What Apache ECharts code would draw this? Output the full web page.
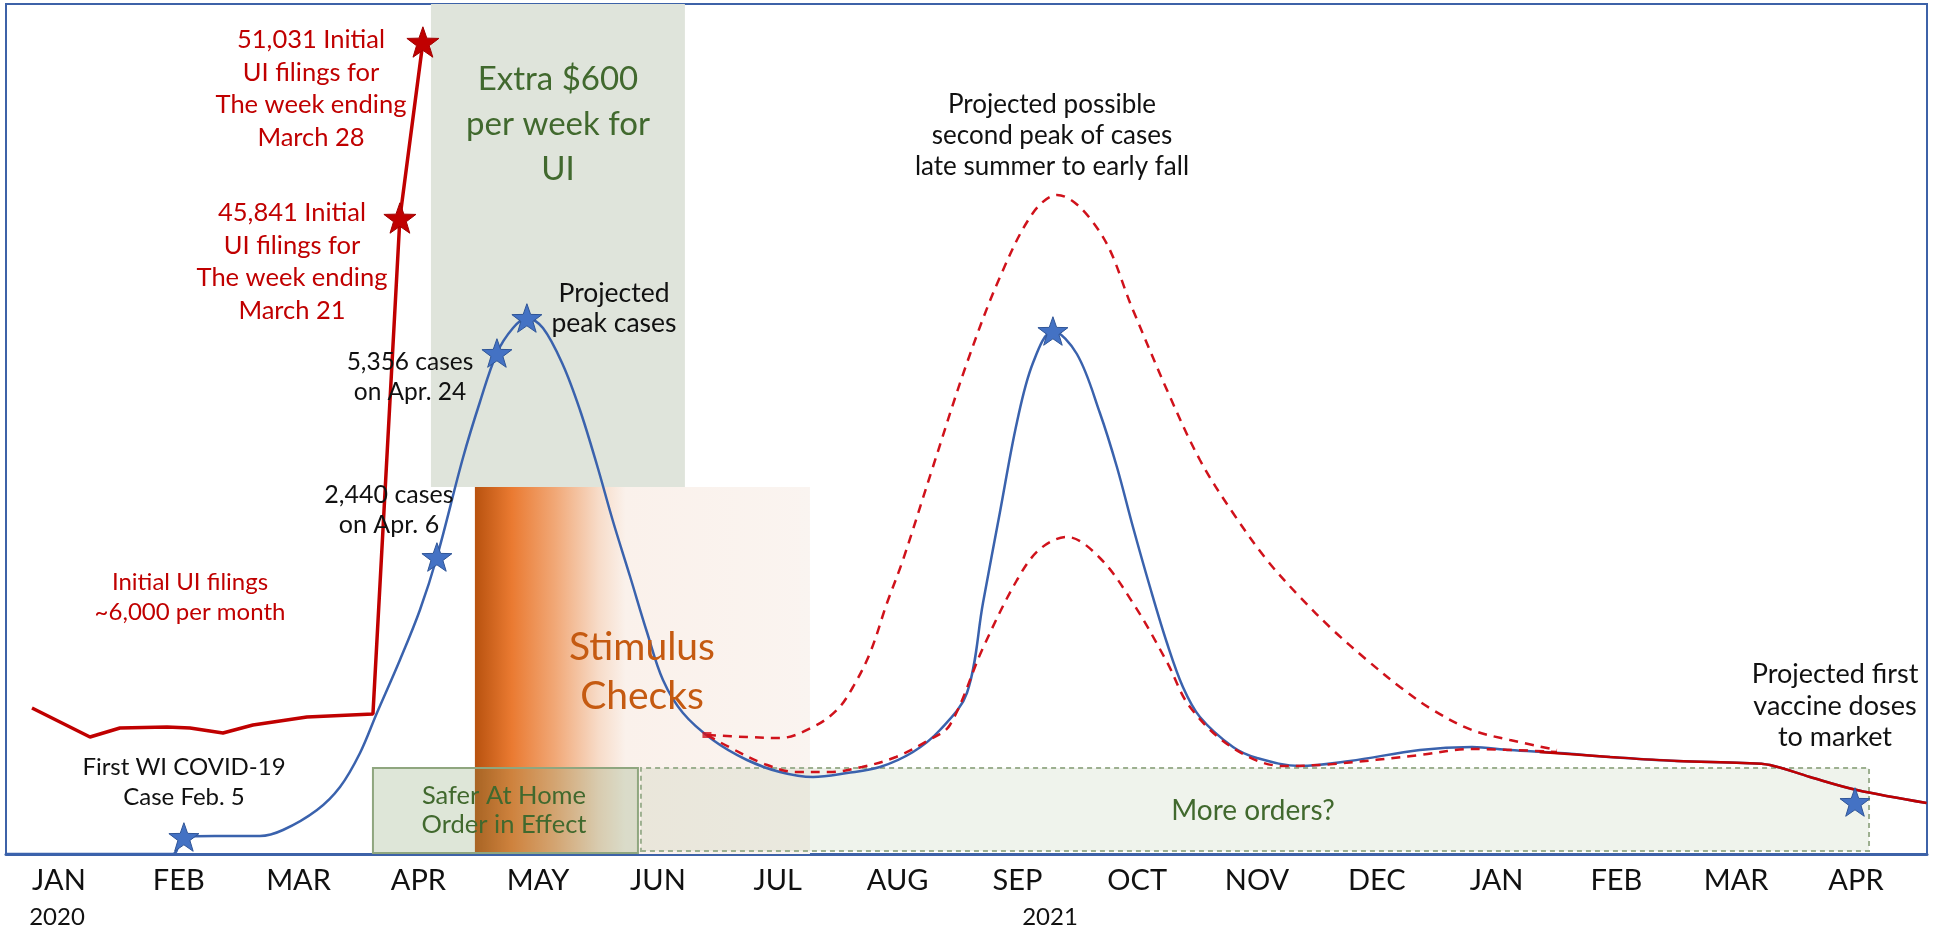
<!DOCTYPE html>
<html>
<head>
<meta charset="utf-8">
<title>WI COVID-19 timeline</title>
<script src="https://cdn.jsdelivr.net/npm/echarts@6/dist/echarts.min.js"></script>
<style>
  html, body { margin: 0; padding: 0; background: #fff; }
  #chart { width: 1933px; height: 930px; }
</style>
</head>
<body>
<div id="chart"></div>
<script>
// x = month index (0 = JAN 2020), y = relative level
const monthLabels = ['JAN', 'FEB', 'MAR', 'APR', 'MAY', 'JUN', 'JUL', 'AUG', 'SEP', 'OCT', 'NOV', 'DEC', 'JAN', 'FEB', 'MAR', 'APR'];
const monthTicks = [0, 1, 2, 3, 4, 5, 6, 7, 8, 9, 10, 11, 12, 13, 14, 15];

const uiFilings = [
  [-0.225, 146], [0.259, 117], [0.509, 126], [0.902, 127], [1.094, 126], [1.369, 121],
  [1.619, 129], [2.07, 137], [2.621, 140], [2.846, 636], [3.038, 812]
];
const uiStars = [[2.846, 636], [3.038, 812]];

const cases = [
  [-0.44, 0], [0.95, 0], [1.035, 17], [1.3, 18], [1.678, 18], [1.87, 24], [2.154, 44], [2.346, 67],
  [2.513, 101], [2.654, 141], [2.846, 194], [3.013, 244], [3.155, 297], [3.372, 396], [3.514, 452],
  [3.656, 501], [3.79, 526], [3.906, 536], [4.04, 526], [4.207, 489], [4.349, 444], [4.491, 389],
  [4.624, 333], [4.766, 278], [4.908, 222], [5.042, 174], [5.209, 141], [5.459, 114], [5.743, 94],
  [6.018, 82], [6.294, 77], [6.578, 81], [6.853, 87], [7.129, 102], [7.354, 124], [7.579, 161],
  [7.713, 251], [7.855, 342], [7.997, 432], [8.13, 491], [8.297, 523], [8.497, 500], [8.689, 441],
  [8.831, 387], [8.965, 327], [9.107, 267], [9.249, 211], [9.382, 167], [9.524, 137], [9.8, 107],
  [10.0, 96], [10.359, 88], [10.776, 93], [11.36, 104], [11.795, 107], [12.112, 104], [12.529, 101],
  [12.947, 97], [13.506, 93], [14.057, 91], [14.282, 89], [14.616, 77], [15.008, 64], [15.59, 51]
];
const caseStars = [[1.043, 17], [3.155, 297], [3.656, 501], [3.906, 536], [8.297, 523], [14.992, 52]];

const secondPeakHigh = [
  [5.409, 119], [5.743, 117], [6.018, 116], [6.294, 127], [6.494, 144], [6.628, 167], [6.77, 201],
  [6.912, 251], [7.045, 294], [7.295, 387], [7.579, 491], [7.855, 577], [8.13, 641], [8.331, 659],
  [8.689, 622], [8.965, 544], [9.249, 464], [9.524, 394], [9.8, 341], [10.083, 294], [10.359, 257],
  [10.634, 224], [10.918, 194], [11.194, 167], [11.469, 144], [11.795, 124], [12.112, 114], [12.504, 104]
];
const secondPeakLow = [
  [5.409, 119], [5.593, 107], [5.868, 91], [6.152, 82], [6.427, 82], [6.703, 87], [6.987, 97],
  [7.262, 114], [7.437, 129], [7.713, 206], [7.997, 274], [8.189, 305], [8.414, 317], [8.689, 296],
  [8.965, 251], [9.249, 192], [9.441, 147], [9.8, 106], [10.217, 88], [10.634, 90], [11.36, 99],
  [11.795, 105], [12.504, 102]
];
const uiTail = [
  [12.36, 102], [12.947, 97], [13.506, 93], [14.057, 91], [14.282, 89], [14.616, 77], [15.008, 64], [15.59, 51]
];
const dashStart = [[5.409, 119]];

// shaded periods: [xFrom, xTo, yFrom, yTo]
const extra600 = [3.105, 5.225, 367, 850];
const stimulus = [3.472, 6.269, 0, 367];
const saferAtHome = [2.621, 4.833, 1, 86];
const moreOrders = [4.858, 15.109, 3, 86];

const STAR = 'path://M0,-100 L23.5,-32.4 L95.1,-30.9 L38,12.4 L58.8,80.9 L0,40 L-58.8,80.9 L-38,12.4 L-95.1,-30.9 L-23.5,-32.4 Z';
const FONT = 'Lato, "Open Sans", sans-serif';

function area(box, style) {
  return [
    { xAxis: box[0], yAxis: box[2], itemStyle: style },
    { xAxis: box[1], yAxis: box[3] }
  ];
}

function txt(x, y, text, size, color, lh) {
  return {
    type: 'text', x: x, y: y, z: 100,
    style: {
      text: text, fill: color, font: size + 'px ' + FONT, fontSize: size, fontFamily: FONT,
      align: 'center', textAlign: 'center', verticalAlign: 'middle', textVerticalAlign: 'middle',
      lineHeight: lh || size
    }
  };
}

const chart = echarts.init(document.getElementById('chart'));
chart.setOption({
  animation: false,
  backgroundColor: '#fff',
  grid: {
    left: 6, right: 6, top: 4, bottom: 76,
    show: true, borderColor: '#3d62a8', borderWidth: 2
  },
  xAxis: {
    type: 'value', min: -0.442, max: 15.593,
    axisLine: { show: true, onZero: false, lineStyle: { color: '#3d62a8', width: 3 } },
    axisTick: { show: false },
    splitLine: { show: false },
    axisLabel: {
      customValues: monthTicks,
      formatter: v => monthLabels[Math.round(v)],
      fontSize: 29, fontFamily: FONT, color: '#111', margin: 12
    }
  },
  yAxis: { type: 'value', min: 0, max: 850, show: false, splitLine: { show: false } },
  series: [
    {
      type: 'line', data: [], z: 1, silent: true,
      markArea: {
        silent: true, label: { show: false },
        data: [
          area(extra600, { color: '#dfe4db' }),
          area(stimulus, {
            color: {
              type: 'linear', x: 0, y: 0, x2: 1, y2: 0,
              colorStops: [
                { offset: 0, color: '#b8520f' },
                { offset: 0.11, color: '#ea7a31' },
                { offset: 0.24, color: '#f1a877' },
                { offset: 0.37, color: '#f7dcc9' },
                { offset: 0.45, color: '#faf1eb' },
                { offset: 1, color: '#faf4f0' }
              ]
            }
          }),
          area(moreOrders, { color: 'rgba(122,154,100,0.12)', borderColor: '#9db090', borderWidth: 2, borderType: [5, 4] }),
          area(saferAtHome, { color: 'rgba(122,154,100,0.25)', borderColor: '#8fa67f', borderWidth: 2 })
        ]
      }
    },
    {
      name: 'UI filings', type: 'line', data: uiFilings, z: 4,
      showSymbol: false, smooth: false,
      lineStyle: { color: '#c00000', width: 3.5 }
    },
    {
      name: 'Cases', type: 'line', data: cases, z: 3,
      showSymbol: false, smooth: 0.35,
      lineStyle: { color: '#3a62ad', width: 2.5 }
    },
    {
      name: 'Second peak high', type: 'line', data: secondPeakHigh, z: 3,
      showSymbol: false, smooth: 0.35,
      lineStyle: { color: '#d0121b', width: 2.5, type: [9, 7] }
    },
    {
      name: 'Second peak low', type: 'line', data: secondPeakLow, z: 3,
      showSymbol: false, smooth: 0.35,
      lineStyle: { color: '#d0121b', width: 2.5, type: [9, 7] }
    },
    {
      name: 'Tail', type: 'line', data: uiTail, z: 4,
      showSymbol: false, smooth: 0.35,
      lineStyle: { color: '#c00000', width: 2.5 }
    },
    {
      name: 'Dash start', type: 'scatter', data: dashStart, z: 4,
      symbol: 'rect', symbolSize: [9, 6],
      itemStyle: { color: '#d0121b' }
    },
    {
      name: 'Case stars', type: 'scatter', data: caseStars, z: 6,
      symbol: STAR, symbolSize: 30, symbolKeepAspect: true,
      itemStyle: { color: '#4472c4', borderColor: '#2f5597', borderWidth: 1, opacity: 1 }
    },
    {
      name: 'UI stars', type: 'scatter', data: uiStars, z: 6,
      symbol: STAR, symbolSize: 32, symbolKeepAspect: true,
      itemStyle: { color: '#c00000', borderColor: '#a00000', borderWidth: 1, opacity: 1 }
    }
  ],
  graphic: [
    txt(311, 89, '51,031 Initial\nUI filings for\nThe week ending\nMarch 28', 25.5, '#c00000', 32.5),
    txt(292, 262, '45,841 Initial\nUI filings for\nThe week ending\nMarch 21', 25.5, '#c00000', 32.5),
    txt(558, 124, 'Extra $600\nper week for\nUI', 33, '#41692e', 45),
    txt(614, 308, 'Projected\npeak cases', 26.5, '#111', 30),
    txt(410, 377, '5,356 cases\non Apr. 24', 24.5, '#111', 30),
    txt(389, 510, '2,440 cases\non Apr. 6', 25, '#111', 30),
    txt(190, 597, 'Initial UI filings\n~6,000 per month', 24, '#c00000', 30),
    txt(184, 782, 'First WI COVID-19\nCase Feb. 5', 24, '#111', 30),
    txt(642, 672, 'Stimulus\nChecks', 39, '#c55a11', 49),
    txt(504, 810, 'Safer At Home\nOrder in Effect', 25.5, '#41692e', 29),
    txt(1052, 136, 'Projected possible\nsecond peak of cases\nlate summer to early fall', 26, '#111', 31),
    txt(1253, 811, 'More orders?', 28, '#41692e', 28),
    txt(1835, 706, 'Projected first\nvaccine doses\nto market', 27, '#111', 31.5),
    txt(57, 917, '2020', 24, '#111', 24),
    txt(1050, 917, '2021', 24, '#111', 24)
  ]
});
</script>
</body>
</html>
